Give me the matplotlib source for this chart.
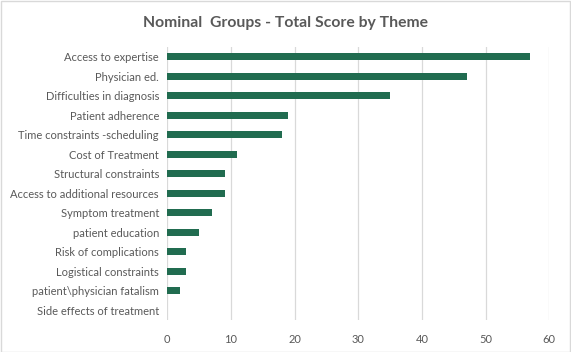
import matplotlib
matplotlib.use("Agg")
import matplotlib.pyplot as plt
from matplotlib.patches import Rectangle

themes = [
    "Access to expertise",
    "Physician ed.",
    "Difficulties in diagnosis",
    "Patient adherence",
    "Time constraints -scheduling",
    "Cost of Treatment",
    "Structural constraints",
    "Access to additional resources",
    "Symptom treatment",
    "patient education",
    "Risk of complications",
    "Logistical constraints",
    "patient\\physician fatalism",
    "Side effects of treatment",
]
scores = [57, 47, 35, 19, 18, 11, 9, 9, 7, 5, 3, 3, 2, 0]
xticks = [0, 10, 20, 30, 40, 50, 60]

plt.rcParams["font.family"] = ["Lato", "DejaVu Sans"]
grey = "#595959"

fig = plt.figure(figsize=(5.71, 3.52), dpi=100)
ax = fig.add_axes([0.293, 0.091, 0.669, 0.775])

ypos = list(range(len(themes)))
ax.barh(ypos, scores, height=0.36, color="#216C50", zorder=3)
ax.set_ylim(len(themes) - 0.5, -0.5)
ax.set_xlim(0, 60)
ax.set_xticks(xticks)
ax.set_yticks(ypos)
ax.set_yticklabels(themes)
ax.tick_params(axis="both", length=0, colors=grey, labelsize=8)
ax.tick_params(axis="x", pad=10)
ax.tick_params(axis="y", pad=6)
ax.grid(axis="x", color="#d9d9d9", linewidth=0.9, zorder=0)
for s in ax.spines.values():
    s.set_visible(False)

fig.text(0.5, 0.935, "Nominal  Groups - Total Score by Theme", ha="center",
         va="center", fontsize=11.3, fontweight="bold", color=grey)

fig.patches.append(Rectangle((0.001, 0.001), 0.997, 0.997, transform=fig.transFigure,
                             fill=False, edgecolor="#d9d9d9", linewidth=1))

fig.savefig("out.png", dpi=100)
